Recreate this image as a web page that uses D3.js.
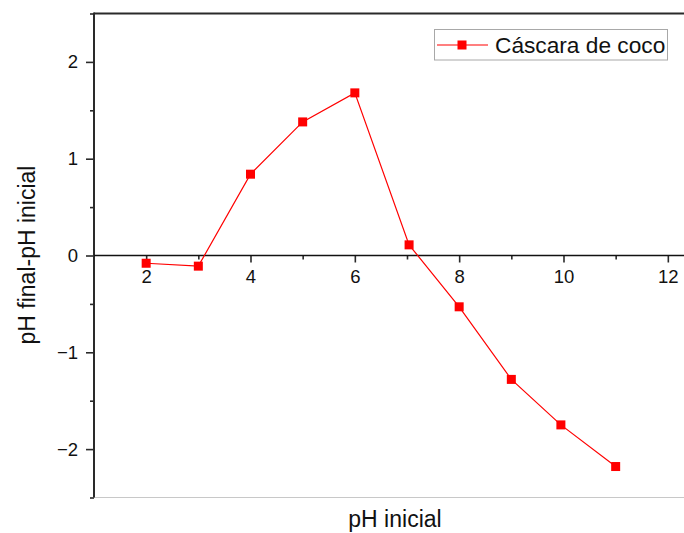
<!DOCTYPE html>
<html>
<head>
<meta charset="utf-8">
<script src="https://cdn.jsdelivr.net/npm/d3@7"></script>
<style>
  html, body { margin: 0; padding: 0; background: #fff; }
  svg { display: block; font-family: "Liberation Sans", Arial, sans-serif; }
</style>
</head>
<body>
<svg id="chart" width="684" height="533"></svg>
<script>
// pH inicial vs. change in pH for coconut shell
const phInicial = [2, 3, 4, 5, 6, 7.04, 8, 9, 9.95, 11];
const deltaPH = [-0.08, -0.11, 0.84, 1.38, 1.68, 0.11, -0.53, -1.28, -1.75, -2.18];
const xMajorTicks = [2, 4, 6, 8, 10, 12];
const xMinorTicks = [3, 5, 7, 9, 11];
const yMajorTicks = [-2, -1, 0, 1, 2];
const yMinorTicks = [-2.5, -1.5, -0.5, 0.5, 1.5, 2.5];
const seriesName = "Cáscara de coco";
const xTitle = "pH inicial";
const yTitle = "pH final-pH inicial";

const svg = d3.select("#chart");
const plotLeft = 94, plotRight = 684, plotTop = 13.5, plotBottom = 497.5;

const x = d3.scaleLinear().domain([1, 12.31]).range([plotLeft, plotRight]);
const y = d3.scaleLinear().domain([-2.5, 2.5]).range([plotBottom, plotTop]);

const red = "#ff0000";
const axisColor = "#2a2a2a";

// frame: top line dark, bottom line light
svg.append("line").attr("x1", plotLeft).attr("x2", plotRight).attr("y1", plotTop).attr("y2", plotTop)
  .attr("stroke", axisColor).attr("stroke-width", 2);
svg.append("line").attr("x1", plotLeft).attr("x2", plotRight).attr("y1", plotBottom).attr("y2", plotBottom)
  .attr("stroke", "#c8c8c8").attr("stroke-width", 1);

// y axis (left)
const yAxis = svg.append("g").attr("transform", `translate(${plotLeft},0)`)
  .call(d3.axisLeft(y).tickValues(yMajorTicks).tickSize(8).tickPadding(8)
    .tickFormat(d => d3.format("d")(d).replace("-", "\u2212")));
yAxis.select(".domain").remove();
const yMinor = svg.append("g").attr("transform", `translate(${plotLeft},0)`)
  .call(d3.axisLeft(y).tickValues(yMinorTicks).tickSize(4).tickFormat(""));
yMinor.select(".domain").remove();
svg.append("line").attr("x1", plotLeft).attr("x2", plotLeft).attr("y1", plotTop - 1).attr("y2", plotBottom)
  .attr("stroke", axisColor).attr("stroke-width", 2);

// x axis along y = 0
const xAxis = svg.append("g").attr("transform", `translate(0,${y(0)})`)
  .call(d3.axisBottom(x).tickValues(xMajorTicks).tickSize(7).tickPadding(7).tickFormat(d3.format("d")));
xAxis.select(".domain").remove();
const xMinor = svg.append("g").attr("transform", `translate(0,${y(0)})`)
  .call(d3.axisBottom(x).tickValues(xMinorTicks).tickSize(4).tickFormat(""));
xMinor.select(".domain").remove();
svg.append("line").attr("x1", plotLeft).attr("x2", plotRight).attr("y1", y(0)).attr("y2", y(0))
  .attr("stroke", "#111").attr("stroke-width", 1.6);

svg.selectAll(".tick line").attr("stroke", axisColor).attr("stroke-width", 1.6);
svg.selectAll(".tick text").attr("fill", "#111").attr("font-size", 18.5)
  .attr("font-family", "Liberation Sans, Arial, sans-serif");

// series line and markers
const line = d3.line().x((d, i) => x(phInicial[i])).y(d => y(d));
svg.append("path").datum(deltaPH).attr("d", line)
  .attr("fill", "none").attr("stroke", red).attr("stroke-width", 1.2);
const ms = 9;
svg.selectAll("rect.pt").data(deltaPH).join("rect").attr("class", "pt")
  .attr("x", (d, i) => x(phInicial[i]) - ms / 2).attr("y", d => y(d) - ms / 2)
  .attr("width", ms).attr("height", ms).attr("fill", red);

// axis titles
svg.append("text").attr("x", 395).attr("y", 527).attr("text-anchor", "middle")
  .attr("font-size", 23).attr("fill", "#111").text(xTitle);
svg.append("text").attr("transform", `translate(35,${255}) rotate(-90)`).attr("text-anchor", "middle")
  .attr("font-size", 23).attr("fill", "#111").text(yTitle);

// legend
const lg = svg.append("g");
lg.append("rect").attr("x", 434.5).attr("y", 29.5).attr("width", 233).attr("height", 30.5)
  .attr("fill", "#fff").attr("stroke", "#a8a8a8").attr("stroke-width", 1);
lg.append("line").attr("x1", 437).attr("x2", 488).attr("y1", 45).attr("y2", 45)
  .attr("stroke", red).attr("stroke-width", 1.2);
lg.append("rect").attr("x", 462 - ms / 2).attr("y", 45 - ms / 2).attr("width", ms).attr("height", ms)
  .attr("fill", red);
lg.append("text").attr("x", 495).attr("y", 53).attr("font-size", 22.7).attr("fill", "#111")
  .text(seriesName);
</script>
</body>
</html>
